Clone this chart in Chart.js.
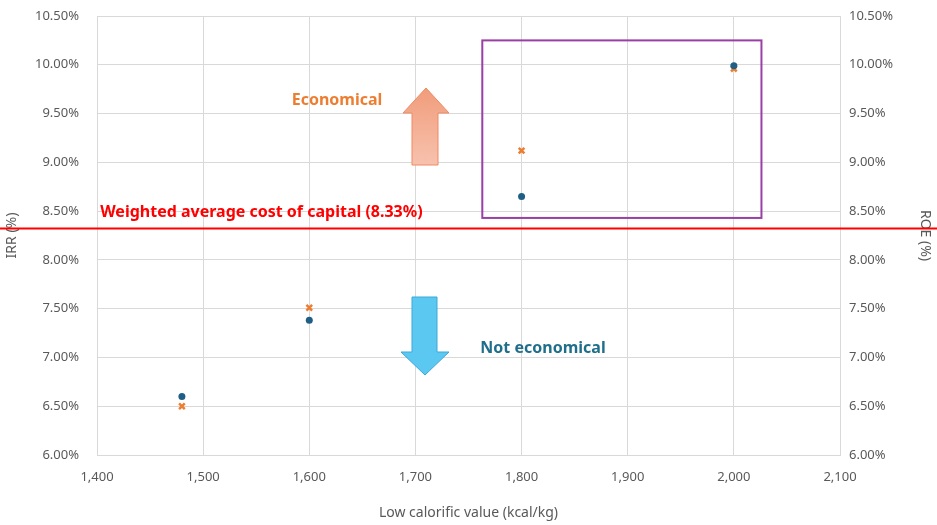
<!DOCTYPE html>
<html>
<head>
<meta charset="utf-8">
<script src="https://cdn.jsdelivr.net/npm/chart.js@4"></script>
<style>
  html, body { margin: 0; padding: 0; background: #fff; }
  #wrap { width: 937px; height: 525px; }
</style>
</head>
<body>
<div id="wrap"><canvas id="myChart" width="937" height="525"></canvas></div>
<script>
// calorific values (kcal/kg)
const calorific = [1480, 1600, 1800, 2000];
// IRR (%) - blue dots, left axis
const irrValues = [6.60, 7.38, 8.65, 9.99];
// ROE (%) - orange crosses, right axis
const roeValues = [6.50, 7.51, 9.12, 9.96];
// weighted average cost of capital
const waccValue = 8.33;

const FONT = "'Noto Sans', sans-serif";
const TICK_COLOR = '#595959';
const GRID = '#d9d9d9';

// draw the annotations (wacc line, box, arrows, labels)
const annotations = {
    id: 'annotations',
    afterDatasetsDraw(chart) {
        const ctx = chart.ctx;
        const x = chart.scales.x;
        const y = chart.scales.y;
        ctx.save();

        // purple box
        ctx.strokeStyle = '#9b3fa6';
        ctx.lineWidth = 2;
        const bx1 = x.getPixelForValue(1763), bx2 = x.getPixelForValue(2026);
        const by1 = y.getPixelForValue(10.25), by2 = y.getPixelForValue(8.43);
        ctx.strokeRect(bx1, by1, bx2 - bx1, by2 - by1);

        // wacc line across the full width
        const wy = Math.round(y.getPixelForValue(waccValue)) + 0.5;
        ctx.strokeStyle = '#ff0000';
        ctx.lineWidth = 2;
        ctx.beginPath();
        ctx.moveTo(0, wy);
        ctx.lineTo(chart.width, wy);
        ctx.stroke();

        ctx.font = "bold 16px " + FONT;
        ctx.textBaseline = 'middle';
        ctx.fillStyle = '#ff0000';
        ctx.textAlign = 'left';
        ctx.fillText('Weighted average cost of capital (8.33%)', x.getPixelForValue(1403), y.getPixelForValue(8.49));

        // up arrow
        const up = [
            [412, 165], [412, 113], [403, 113], [426, 88], [449, 113], [438, 113], [438, 165]
        ];
        const g1 = ctx.createLinearGradient(0, 88, 0, 165);
        g1.addColorStop(0, '#f19c7b');
        g1.addColorStop(1, '#f7c2ae');
        ctx.fillStyle = g1;
        ctx.strokeStyle = '#ee8a63';
        ctx.lineWidth = 1;
        ctx.beginPath();
        up.forEach((p, i) => i ? ctx.lineTo(p[0], p[1]) : ctx.moveTo(p[0], p[1]));
        ctx.closePath();
        ctx.fill();
        ctx.stroke();

        // down arrow
        const down = [
            [412, 297], [437, 297], [437, 352], [449, 352], [425, 375], [401, 352], [412, 352]
        ];
        ctx.fillStyle = '#5bc8f2';
        ctx.strokeStyle = '#3ea7d6';
        ctx.beginPath();
        down.forEach((p, i) => i ? ctx.lineTo(p[0], p[1]) : ctx.moveTo(p[0], p[1]));
        ctx.closePath();
        ctx.fill();
        ctx.stroke();

        // labels
        ctx.textAlign = 'center';
        ctx.fillStyle = '#ed7d31';
        ctx.fillText('Economical', 337, 100);
        ctx.fillStyle = '#1f6f8b';
        ctx.fillText('Not economical', 543, 348);

        ctx.restore();
    }
};

// keep the plot area where it is in the picture
function fitY(s) {
    s.width = 97;
    s.paddingTop = 0;
    s.paddingBottom = 0;
}
function fitX(s) {
    s.height = 70;
    s.paddingLeft = 0;
    s.paddingRight = 0;
}

const ctx = document.getElementById('myChart').getContext('2d');
window.myChart = new Chart(ctx, {
    type: 'scatter',
    data: {
        datasets: [{
            label: 'IRR',
            data: calorific.map((c, i) => ({ x: c, y: irrValues[i] })),
            yAxisID: 'y',
            pointStyle: 'circle',
            pointRadius: 3.5,
            backgroundColor: '#1f5f86',
            borderColor: '#1f5f86',
            borderWidth: 0
        }, {
            label: 'ROE',
            data: calorific.map((c, i) => ({ x: c, y: roeValues[i] })),
            yAxisID: 'y2',
            pointStyle: 'crossRot',
            pointRadius: 4,
            borderColor: '#ed7d31',
            borderWidth: 2.5
        }]
    },
    options: {
        responsive: false,
        animation: false,
        devicePixelRatio: 1,
        layout: { padding: { top: 16, bottom: 0, left: 0, right: 0 } },
        plugins: {
            legend: { display: false },
            tooltip: { enabled: false }
        },
        scales: {
            x: {
                type: 'linear',
                min: 1400, max: 2100,
                ticks: {
                    stepSize: 100,
                    color: TICK_COLOR,
                    font: { family: FONT, size: 13 },
                    padding: 14,
                    callback: v => v.toLocaleString('en-US')
                },
                grid: { color: GRID, drawTicks: false },
                border: { color: GRID },
                title: {
                    display: true,
                    text: 'Low calorific value (kcal/kg)',
                    color: TICK_COLOR,
                    font: { family: FONT, size: 14 },
                    padding: { top: 2, bottom: 4 }
                },
                afterFit: fitX
            },
            y: {
                position: 'left',
                min: 6, max: 10.5,
                ticks: {
                    stepSize: 0.5,
                    color: TICK_COLOR,
                    font: { family: FONT, size: 13 },
                    padding: 18,
                    callback: v => v.toFixed(2) + '%'
                },
                grid: { color: GRID, drawTicks: false },
                border: { color: GRID },
                title: {
                    display: true,
                    text: 'IRR (%)',
                    color: TICK_COLOR,
                    font: { family: FONT, size: 14 }
                },
                afterFit: fitY
            },
            y2: {
                position: 'right',
                min: 6, max: 10.5,
                ticks: {
                    stepSize: 0.5,
                    color: TICK_COLOR,
                    font: { family: FONT, size: 13 },
                    padding: 9,
                    callback: v => v.toFixed(2) + '%'
                },
                grid: { drawOnChartArea: false, drawTicks: false },
                border: { color: GRID },
                title: {
                    display: true,
                    text: 'ROE (%)',
                    color: TICK_COLOR,
                    font: { family: FONT, size: 14 }
                },
                afterFit: fitY
            }
        }
    },
    plugins: [annotations]
});
</script>
</body>
</html>
